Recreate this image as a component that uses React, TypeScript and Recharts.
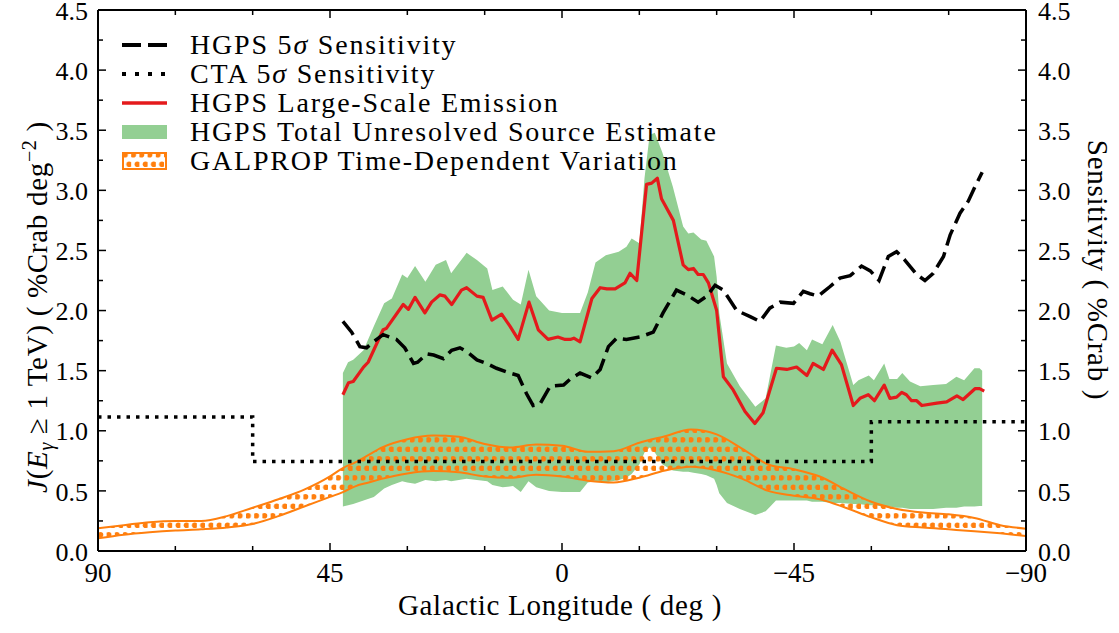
import { ComposedChart, Area, Line, XAxis, YAxis } from 'recharts';

const FONT = "'Liberation Serif', 'DejaVu Serif', serif";

// HGPS total unresolved source estimate (green band), longitude in deg
const unresolvedLon = [
  42.5, 41.5, 40.5, 38.5, 36.5, 34.5, 33, 31, 30, 28.5, 26.5, 24.5, 22.5, 21.5, 18.5, 16.5, 14.5, 13.5, 11.5,
  9.5, 8, 6.5, 5, 2.5, 0, -2, -3.5, -5, -6.5, -8.5, -11, -12.5, -13.5, -15, -16, -17, -18, -19.5, -21.5,
  -23.5, -24.5, -25.5, -27, -28, -29.5, -30, -30.5, -32, -34.5, -37.5, -39.5, -41.5, -43.5, -45, -46,
  -47.5, -48.5, -50.5, -52.5, -54, -56.5, -57.5, -59.5, -60.5, -62.5, -63.5, -65, -66, -67.5, -69.5,
  -72, -74.5, -76.5, -78, -80, -81, -81.5,
];
const unresolvedHigh = [
  1.48, 1.57, 1.59, 1.67, 1.87, 2.06, 2.1, 2.3, 2.27, 2.37, 2.24, 2.38, 2.42, 2.31, 2.48, 2.42, 2.35, 2.17, 2.2,
  2.09, 2.05, 2.34, 2.12, 2.0, 1.98, 1.98, 1.98, 2.15, 2.4, 2.46, 2.49, 2.53, 2.6, 2.56, 3.1, 3.46, 3.48, 3.31, 3.03,
  2.7, 2.64, 2.65, 2.59, 2.58, 2.45, 2.28, 1.98, 1.56, 1.37, 1.2, 1.27, 1.71, 1.69, 1.7, 1.73,
  1.67, 1.76, 1.72, 1.88, 1.74, 1.38, 1.42, 1.46, 1.42, 1.56, 1.43, 1.43, 1.48, 1.41, 1.37,
  1.38, 1.39, 1.45, 1.42, 1.52, 1.52, 1.5,
];
const unresolvedLow = [
  0.37, 0.38, 0.39, 0.42, 0.45, 0.52, 0.55, 0.58, 0.57, 0.56, 0.59, 0.58, 0.59, 0.58, 0.6, 0.59, 0.58, 0.55, 0.53,
  0.54, 0.49, 0.58, 0.53, 0.5, 0.49, 0.49, 0.49, 0.57, 0.58, 0.57, 0.59, 0.61, 0.64, 0.72, 0.82, 0.86, 0.82, 0.72, 0.67,
  0.66, 0.66, 0.65, 0.64, 0.63, 0.6, 0.55, 0.48, 0.4, 0.35, 0.3, 0.33, 0.42, 0.42, 0.42, 0.42,
  0.42, 0.41, 0.41, 0.4, 0.4, 0.39, 0.39, 0.38, 0.38, 0.37, 0.37, 0.36, 0.36, 0.35, 0.35,
  0.35, 0.36, 0.36, 0.37, 0.37, 0.375, 0.375,
];

// HGPS large-scale emission (red)
const largeScaleLon = [
  42.5, 41.4, 40.5, 38.5, 37.6, 34.7, 34.1, 30.8, 29.8, 28.5, 26.6, 25.3, 23.7, 22.7, 21.4, 19.5, 18.5, 16.5, 15.3,
  13.6, 11.7, 10.1, 8.5, 6.4, 4.6, 2.7, 0.8, -0.6, -1.6, -2.3, -3.5, -5.8, -7.4, -8.7, -10.3, -12.2, -13.2, -14.5,
  -16.4, -17.4, -18.5, -19.3, -21.6, -23.5, -24.5, -25.5, -26.4, -27.4, -28.4, -30, -31.3, -33.2, -35.5, -37.4,
  -39, -41.6, -43.6, -45.5, -47.5, -48.7, -50.7, -52.4, -54.2, -56.5, -57.8, -59.4, -60.6, -62.5, -63.6, -64.9,
  -65.9, -66.8, -67.8, -68.8, -69.8, -72.7, -74.6, -76.6, -77.8, -80.1, -81, -81.9,
];
const largeScaleFlux = [
  1.3, 1.4, 1.41, 1.53, 1.57, 1.84, 1.85, 2.05, 2.01, 2.11, 1.98, 2.07, 2.13, 2.12, 2.05, 2.17, 2.19, 2.12, 2.11,
  1.92, 1.97, 1.87, 1.76, 2.07, 1.84, 1.76, 1.78, 1.76, 1.76, 1.77, 1.74, 2.1, 2.19, 2.18, 2.18, 2.23, 2.31, 2.25,
  3.05, 3.06, 3.1, 2.93, 2.75, 2.38, 2.34, 2.35, 2.3, 2.3, 2.23, 2.0, 1.45, 1.34, 1.16, 1.06,
  1.15, 1.52, 1.51, 1.53, 1.46, 1.56, 1.51, 1.67, 1.55, 1.21, 1.27, 1.3, 1.25, 1.38, 1.27, 1.28,
  1.32, 1.3, 1.25, 1.25, 1.21, 1.23, 1.24, 1.29, 1.26, 1.35, 1.35, 1.33,
];

// HGPS 5 sigma sensitivity (dashed)
const hgpsSensLon = [
  42.5, 40.8, 39.2, 37.9, 36.6, 34.7, 32.1, 30.5, 28.8, 28, 26.2, 24.9, 23, 21.4, 19.8, 18.5, 16.5, 14.6, 12.7,
  10.1, 8.5, 6.9, 5.6, 4.3, 2.3, -0.3, -1.6, -3.5, -5.8, -7.4, -9, -10.6, -12.5, -15.1, -17.7, -19.6, -22.2,
  -24.2, -26.4, -28.1, -29.7, -31.3, -33.9, -36.5, -38.4, -40.3, -42.3, -44.9, -46.8, -48.1, -49.7, -52,
  -53.9, -55.9, -58.1, -59.8, -61.5, -63.3, -64.9, -66.5, -68.8, -70.4, -72, -74, -75.3, -77.2, -78.8, -80.1, -81.5,
];
const hgpsSens = [
  1.91, 1.82, 1.7, 1.69, 1.74, 1.8, 1.76, 1.69, 1.56, 1.57, 1.64, 1.63, 1.6, 1.67, 1.69, 1.66, 1.59, 1.56, 1.52,
  1.48, 1.46, 1.31, 1.21, 1.22, 1.37, 1.38, 1.43, 1.48, 1.44, 1.51, 1.7, 1.77, 1.76, 1.78, 1.82, 1.98, 2.17,
  2.13, 2.07, 2.12, 2.21, 2.17, 2.0, 1.95, 1.91, 2.02, 2.07, 2.06, 2.16, 2.14, 2.12, 2.2,
  2.27, 2.29, 2.37, 2.33, 2.25, 2.45, 2.49, 2.42, 2.3, 2.25, 2.31, 2.45, 2.63, 2.81, 2.91, 3.03, 3.15,
];

// CTA 5 sigma sensitivity (dotted step)
const ctaSensLon = [90, 60, 60, -60, -60, -90];
const ctaSens = [1.115, 1.115, 0.745, 0.745, 1.075, 1.075];

// GALPROP time-dependent variation (orange hatched band)
const galpropLon = [
  90, 85, 80, 75, 70, 65, 60, 55, 50, 45, 42.5, 40, 37.5, 35, 30, 25, 20, 15, 10, 5, 0,
  -5, -10, -15, -20, -25, -30, -35, -40, -45, -50, -55, -60, -65, -70, -75, -80, -85, -90,
];
const galpropHigh = [
  0.19, 0.215, 0.24, 0.25, 0.25, 0.29, 0.36, 0.43, 0.51, 0.62, 0.69, 0.74, 0.8, 0.86, 0.93, 0.96, 0.95, 0.89, 0.86, 0.885, 0.875,
  0.825, 0.83, 0.9, 0.955, 1.01, 0.97, 0.85, 0.72, 0.68, 0.62, 0.51, 0.41, 0.35, 0.32, 0.305, 0.275, 0.215, 0.185,
];
const galpropLow = [
  0.105, 0.135, 0.155, 0.17, 0.18, 0.195, 0.225, 0.29, 0.37, 0.45, 0.49, 0.54, 0.57, 0.6, 0.645, 0.665, 0.655, 0.62, 0.61, 0.635, 0.62,
  0.585, 0.57, 0.61, 0.67, 0.7, 0.67, 0.6, 0.5, 0.46, 0.43, 0.36, 0.28, 0.215, 0.195, 0.18, 0.165, 0.147, 0.125,
];

const lonTicks = [90, 75, 60, 45, 30, 15, 0, -15, -30, -45, -60, -75, -90];
const fluxTicks = [0, 0.25, 0.5, 0.75, 1, 1.25, 1.5, 1.75, 2, 2.25, 2.5, 2.75, 3, 3.25, 3.5, 3.75, 4, 4.25, 4.5];

const GREEN = '#93cf93';
const RED = '#e41a1c';
const ORANGE = '#ff7f0e';

const unresolvedData = unresolvedLon.map((l, i) => ({ l, v: [unresolvedLow[i], unresolvedHigh[i]] }));
const largeScaleData = largeScaleLon.map((l, i) => ({ l, v: largeScaleFlux[i] }));
const hgpsSensData = hgpsSensLon.map((l, i) => ({ l, v: hgpsSens[i] }));
const ctaSensData = ctaSensLon.map((l, i) => ({ l, v: ctaSens[i] }));
const galpropData = galpropLon.map((l, i) => ({ l, v: [galpropLow[i], galpropHigh[i]] }));

const fmtLon = (v: number) => (v < 0 ? '\u2212' + Math.abs(v) : String(v));

// hatch of filled dots, rows offset by half a step
const DotPattern = ({ id }: { id: string }) => (
  <pattern id={id} width="8.2" height="19" patternUnits="userSpaceOnUse">
    <circle cx="2.05" cy="2.8" r="2.8" fill={ORANGE} />
    <circle cx="6.15" cy="12.3" r="2.8" fill={ORANGE} />
  </pattern>
);

function LonTick(props: any) {
  const { x, y, payload, side } = props;
  const v = payload.value;
  const major = v % 45 === 0;
  const len = major ? 8 : 5;
  const dir = side === 'top' ? 1 : -1;
  return (
    <g>
      <line x1={x} y1={y} x2={x} y2={y + dir * len} stroke="#000" strokeWidth={1.5} />
      {side === 'bottom' && major && (
        <text x={x} y={y + 31} textAnchor="middle" fontSize={27} fontFamily={FONT} fill="#000">
          {fmtLon(v)}
        </text>
      )}
    </g>
  );
}

function FluxTick(props: any) {
  const { x, y, payload, side } = props;
  const v = payload.value;
  const major = Math.abs(v * 2 - Math.round(v * 2)) < 1e-6;
  const len = major ? 8 : 5;
  const dir = side === 'left' ? 1 : -1;
  return (
    <g>
      <line x1={x} y1={y} x2={x + dir * len} y2={y} stroke="#000" strokeWidth={1.5} />
      {major && (
        <text
          x={side === 'left' ? x - 10 : x + 12}
          y={y}
          dy="0.37em"
          textAnchor={side === 'left' ? 'end' : 'start'}
          fontSize={26}
          fontFamily={FONT}
          fill="#000"
        >
          {v.toFixed(1)}
        </text>
      )}
    </g>
  );
}

// legend + axis titles drawn on top of the chart
function Overlay() {
  const rows = [54, 83, 112, 141, 170];
  const legendStyle = { fontSize: 28, fontFamily: FONT, fill: '#000', letterSpacing: 1.8 };
  const labelStyle = { fontSize: 29, fontFamily: FONT, fill: '#000', letterSpacing: 0.7 };
  return (
    <svg width={1119} height={633} style={{ position: 'absolute', left: 0, top: 0, pointerEvents: 'none' }}>
      <defs>
        <DotPattern id="legendDots" />
      </defs>
      <line x1={122} x2={167} y1={rows[0] - 9} y2={rows[0] - 9} stroke="#000" strokeWidth={4} strokeDasharray="19 7" />
      <line x1={122} x2={167} y1={rows[1] - 9} y2={rows[1] - 9} stroke="#000" strokeWidth={4} strokeDasharray="4 9" />
      <line x1={122} x2={167} y1={rows[2] - 9} y2={rows[2] - 9} stroke={RED} strokeWidth={3.5} />
      <rect x={122} y={rows[3] - 16} width={45} height={14} fill={GREEN} />
      <rect x={123} y={rows[4] - 17} width={43} height={16} fill="url(#legendDots)" stroke={ORANGE} strokeWidth={2} />
      <text x={190} y={rows[0]} {...legendStyle}>
        HGPS 5<tspan fontStyle="italic">σ</tspan> Sensitivity
      </text>
      <text x={190} y={rows[1]} {...legendStyle}>
        CTA 5<tspan fontStyle="italic">σ</tspan> Sensitivity
      </text>
      <text x={190} y={rows[2]} {...legendStyle}>HGPS Large-Scale Emission</text>
      <text x={190} y={rows[3]} {...legendStyle}>HGPS Total Unresolved Source Estimate</text>
      <text x={190} y={rows[4]} {...legendStyle}>GALPROP Time-Dependent Variation</text>

      <text x={560} y={615} textAnchor="middle" {...labelStyle}>
        Galactic Longitude ( deg )
      </text>
      <text transform="translate(47,307) rotate(-90)" textAnchor="middle" {...labelStyle}>
        <tspan fontStyle="italic">J</tspan>(<tspan fontStyle="italic">E</tspan>
        <tspan fontStyle="italic" fontSize={20} dy={6}>γ</tspan>
        <tspan dy={-6}> ≥ 1 TeV) ( %Crab deg</tspan>
        <tspan fontSize={20} dy={-11}>−2</tspan>
        <tspan dy={11}> )</tspan>
      </text>
      <text transform="translate(1088,270) rotate(90)" textAnchor="middle" {...labelStyle}>
        Sensitivity ( %Crab )
      </text>
    </svg>
  );
}

export default function App() {
  return (
    <div style={{ position: 'absolute', left: 0, top: 0, width: 1119, height: 633, background: '#fff' }}>
      <ComposedChart width={1119} height={633} margin={{ top: 5, right: 33, bottom: 42, left: 38 }}>
        <defs>
          <DotPattern id="galpropDots" />
        </defs>
        <XAxis
          xAxisId={0}
          type="number"
          dataKey="l"
          domain={[-90, 90]}
          reversed
          allowDataOverflow
          ticks={lonTicks}
          interval={0}
          height={40}
          tickSize={0}
          tickMargin={0}
          tickLine={false}
          axisLine={{ stroke: '#000', strokeWidth: 2 }}
          tick={(p: any) => <LonTick {...p} side="bottom" />}
        />
        <XAxis
          xAxisId="top"
          orientation="top"
          type="number"
          dataKey="l"
          domain={[-90, 90]}
          reversed
          allowDataOverflow
          ticks={lonTicks}
          interval={0}
          height={5}
          tickSize={0}
          tickMargin={0}
          tickLine={false}
          axisLine={{ stroke: '#000', strokeWidth: 2 }}
          tick={(p: any) => <LonTick {...p} side="top" />}
        />
        <YAxis
          yAxisId={0}
          type="number"
          domain={[0, 4.5]}
          allowDataOverflow
          ticks={fluxTicks}
          interval={0}
          width={60}
          tickSize={0}
          tickMargin={0}
          tickLine={false}
          axisLine={{ stroke: '#000', strokeWidth: 2 }}
          tick={(p: any) => <FluxTick {...p} side="left" />}
        />
        <YAxis
          yAxisId="right"
          orientation="right"
          type="number"
          domain={[0, 4.5]}
          allowDataOverflow
          ticks={fluxTicks}
          interval={0}
          width={60}
          tickSize={0}
          tickMargin={0}
          tickLine={false}
          axisLine={{ stroke: '#000', strokeWidth: 2 }}
          tick={(p: any) => <FluxTick {...p} side="right" />}
        />
        <Area
          data={unresolvedData}
          dataKey="v"
          type="linear"
          stroke="none"
          fill={GREEN}
          fillOpacity={1}
          isAnimationActive={false}
          dot={false}
          activeDot={false}
        />
        <Area
          data={galpropData}
          dataKey="v"
          type="monotone"
          stroke={ORANGE}
          strokeWidth={2}
          fill="url(#galpropDots)"
          fillOpacity={1}
          isAnimationActive={false}
          dot={false}
          activeDot={false}
        />
        <Line
          data={ctaSensData}
          dataKey="v"
          type="linear"
          stroke="#000"
          strokeWidth={3.5}
          strokeDasharray="3.5 6"
          dot={false}
          activeDot={false}
          isAnimationActive={false}
        />
        <Line
          data={largeScaleData}
          dataKey="v"
          type="linear"
          stroke={RED}
          strokeWidth={3.2}
          strokeLinejoin="round"
          dot={false}
          activeDot={false}
          isAnimationActive={false}
        />
        <Line
          data={hgpsSensData}
          dataKey="v"
          type="linear"
          stroke="#000"
          strokeWidth={3.5}
          strokeDasharray="17 7"
          dot={false}
          activeDot={false}
          isAnimationActive={false}
        />
      </ComposedChart>
      <Overlay />
    </div>
  );
}
